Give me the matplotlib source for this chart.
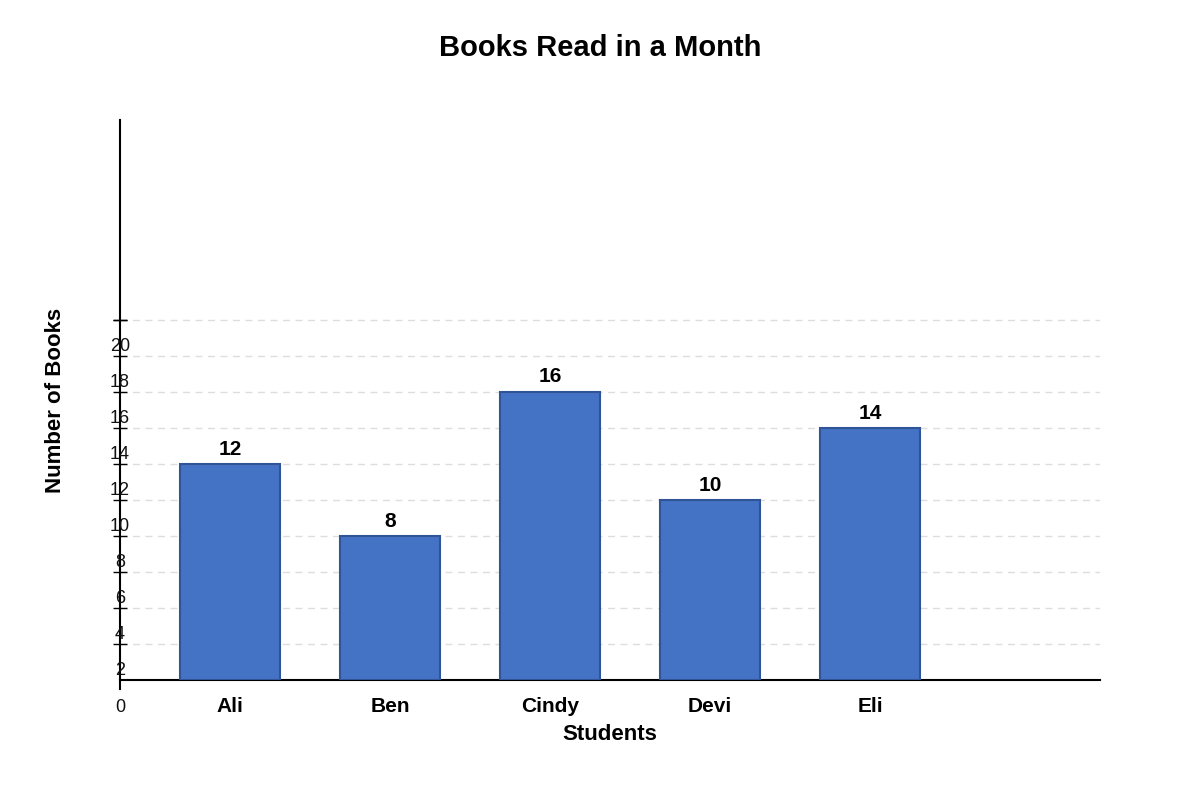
import matplotlib
matplotlib.use("Agg")
import matplotlib.pyplot as plt
import matplotlib.transforms as mt

students = ["Ali", "Ben", "Cindy", "Devi", "Eli"]
books = [12, 8, 16, 10, 14]
yticks = list(range(0, 22, 2))

plt.rcParams['font.family'] = ['Liberation Sans', 'DejaVu Sans']
fig = plt.figure(figsize=(12, 8), dpi=100)
ax = fig.add_axes([0.1, 0.15, 0.8167, 0.70])
x = range(len(students))
ax.bar(x, books, width=0.625, color="#4472c4", edgecolor="#2f5597", linewidth=1.5, zorder=3)
for xi, v in zip(x, books):
    ax.text(xi, v + 0.3, str(v), ha="center", va="bottom", fontsize=15, fontweight="bold")
ax.set_xlim(-0.6875, 5.4375)
ax.set_ylim(0, 31.1)
for s in ["top", "right"]:
    ax.spines[s].set_visible(False)
ax.spines["left"].set_linewidth(1.5)
ax.spines["bottom"].set_linewidth(1.5)
for t in yticks[1:]:
    ax.axhline(t, color="#dddddd", ls=(0, (5, 4)), lw=1, zorder=1)
ax.set_yticks(yticks[1:] + [20])
ax.set_yticklabels([])
ax.tick_params(axis="y", direction="inout", length=10, width=1)
ax.spines["left"].set_bounds(-0.5, 31.1)
off = mt.ScaledTranslation(0, -27 / 100, fig.dpi_scale_trans)
tr = mt.blended_transform_factory(ax.transAxes, ax.transData) + off
for t in yticks:
    ax.text(0, t, str(t), transform=tr, ha="center", va="center", fontsize=13, color="#111111")
ax.set_xticks(list(x))
ax.set_xticklabels(students, fontsize=15, fontweight="bold")
ax.tick_params(axis="x", length=0, pad=12)
ax.set_xlabel("Students", fontsize=16, fontweight="bold", labelpad=6)
ax.set_ylabel("Number of Books", fontsize=16, fontweight="bold")
ax.yaxis.set_label_coords(-0.055, 0.5)
fig.text(0.5, 0.94, "Books Read in a Month", ha="center", va="center", fontsize=21, fontweight="bold")
fig.savefig("out.png")
